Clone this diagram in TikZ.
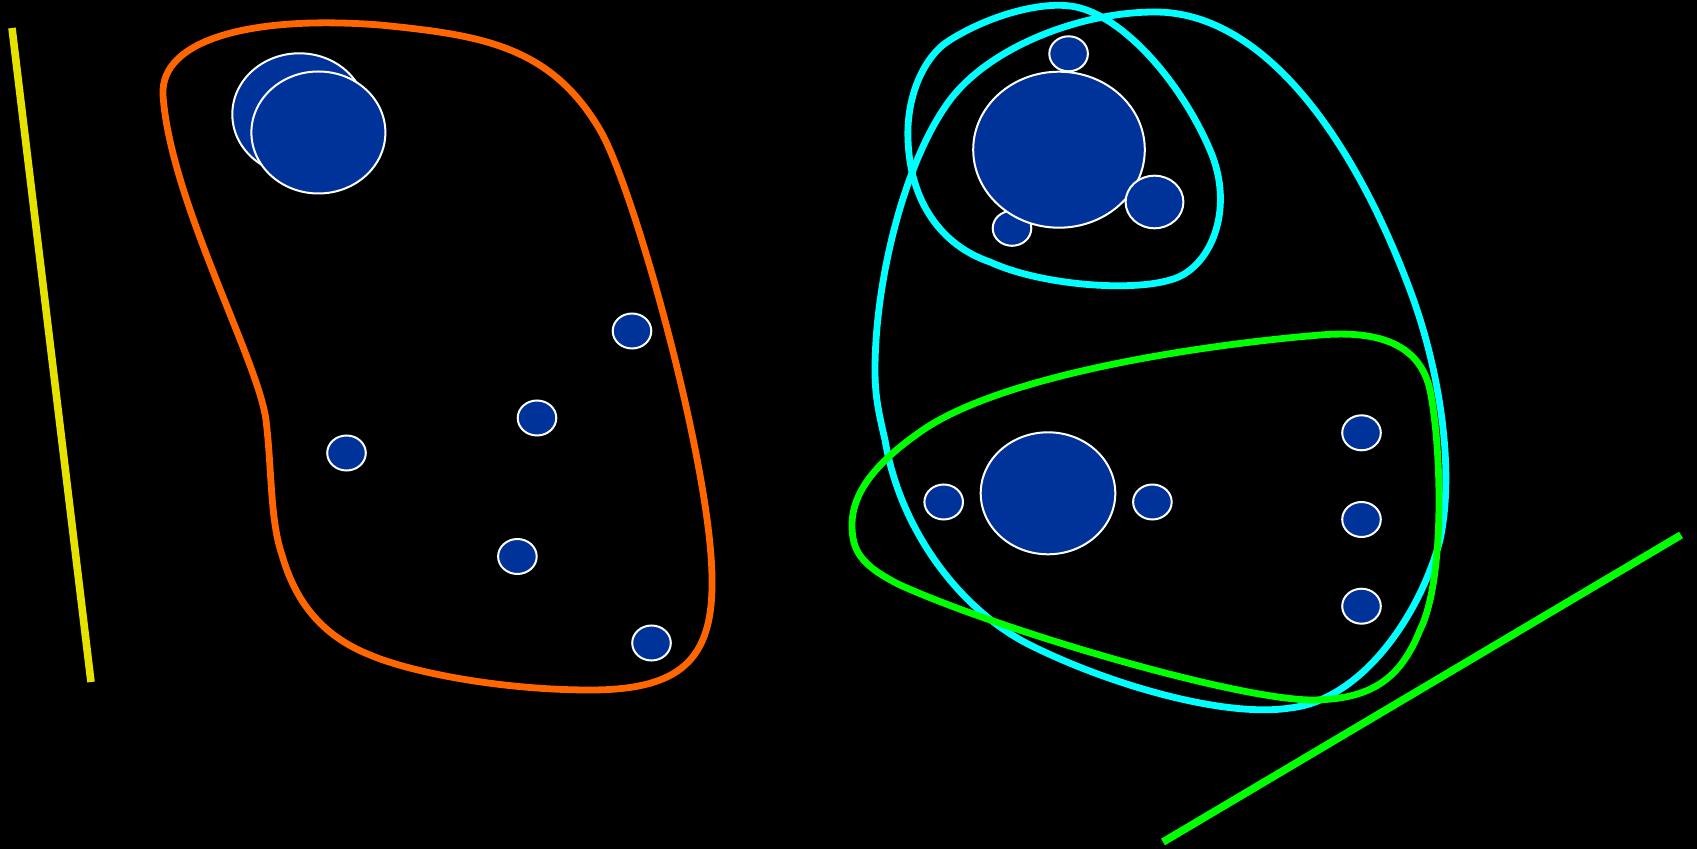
\documentclass[tikz,border=0pt]{standalone}
\usetikzlibrary{shapes.geometric}
\definecolor{blob}{HTML}{003399}
\definecolor{orng}{HTML}{FF6600}
\definecolor{cyn}{HTML}{00FFFF}
\definecolor{grn}{HTML}{00FF00}
\definecolor{ylw}{HTML}{E6E200}
\tikzset{
  cell/.style={ellipse, draw=white, fill=blob, line width=1pt, inner sep=0pt},
  small/.style={cell, minimum width=19.3pt, minimum height=17.5pt},
  loop/.style={line width=3.4pt, line join=round},
  bar/.style={line width=3.8pt},
}
\begin{document}
\begin{tikzpicture}[x=0.5pt, y=-0.5pt]
\path[fill=black, use as bounding box] (0,0) rectangle (1697,849);

% lines
\coordinate (y1) at (12,28);
\coordinate (y2) at (91,682);
\draw[ylw, bar] (y1) -- (y2);
\coordinate (g1) at (1163,842);
\coordinate (g2) at (1681,535);
\draw[grn, bar] (g1) -- (g2);

% orange loop
\draw[orng, loop] (163,95)
  .. controls (160,40) and (250,15) .. (380,25)
  .. controls (480,35) and (550,45) .. (600,130)
  .. controls (635,190) and (712,470) .. (712,580)
  .. controls (713,660) and (680,690) .. (590,690)
  .. controls (500,690) and (410,672) .. (370,655)
  .. controls (320,635) and (295,600) .. (282,555)
  .. controls (270,520) and (272,470) .. (266,420)
  .. controls (258,360) and (170,200) .. (163,95) -- cycle;

% left cells
\node[cell, minimum width=67pt, minimum height=61pt] (a1) at (299.3,114.3) {};
\node[cell, minimum width=67pt, minimum height=61pt] (a2) at (318.4,132.5) {};
\node[small] (a3) at (632,331) {};
\node[small] (a4) at (537,418) {};
\node[small] (a5) at (346.5,453) {};
\node[small] (a6) at (517.4,556.5) {};
\node[small] (a7) at (651.5,643) {};

% top-right cells
\node[small] (b4) at (1012,228.3) {};
\node[cell, minimum width=85.8pt, minimum height=78pt] (b1) at (1059,149.7) {};
\node[cell, minimum width=28.9pt, minimum height=26.3pt] (b3) at (1154.5,202) {};
\node[small] (b2) at (1068.6,53.8) {};

% bottom-right cells
\node[cell, minimum width=67.3pt, minimum height=61pt] (c1) at (1048,493.3) {};
\node[small] (c2) at (943.7,502) {};
\node[small] (c3) at (1152.4,502) {};
\node[small] (c4) at (1361.5,432.8) {};
\node[small] (c5) at (1361.5,519.5) {};
\node[small] (c6) at (1361.5,606.2) {};

% inner cyan loop
\draw[cyn, loop] (908,140)
  .. controls (906,95) and (925,55) .. (950,40)
  .. controls (990,15) and (1040,2) .. (1070,6)
  .. controls (1120,12) and (1180,80) .. (1210,150)
  .. controls (1236,210) and (1210,270) .. (1170,280)
  .. controls (1130,292) and (1040,285) .. (990,262)
  .. controls (940,245) and (910,200) .. (908,140) -- cycle;

% outer cyan loop
\draw[cyn, loop] (875,370)
  .. controls (875,280) and (905,160) .. (950,100)
  .. controls (990,47) and (1080,12) .. (1155,12)
  .. controls (1260,12) and (1350,130) .. (1410,290)
  .. controls (1440,370) and (1455,470) .. (1440,540)
  .. controls (1420,615) and (1362,700) .. (1290,708)
  .. controls (1225,718) and (1110,685) .. (1030,645)
  .. controls (960,610) and (900,530) .. (885,440)
  .. controls (878,410) and (875,395) .. (875,370) -- cycle;

% green loop
\draw[grn, loop] (852,525)
  .. controls (852,490) and (880,460) .. (920,432)
  .. controls (1000,375) and (1200,345) .. (1320,335)
  .. controls (1380,330) and (1420,345) .. (1430,390)
  .. controls (1442,450) and (1445,580) .. (1420,630)
  .. controls (1400,680) and (1370,700) .. (1310,700)
  .. controls (1230,698) and (1000,630) .. (900,585)
  .. controls (860,565) and (852,550) .. (852,525) -- cycle;
\end{tikzpicture}
\end{document}
